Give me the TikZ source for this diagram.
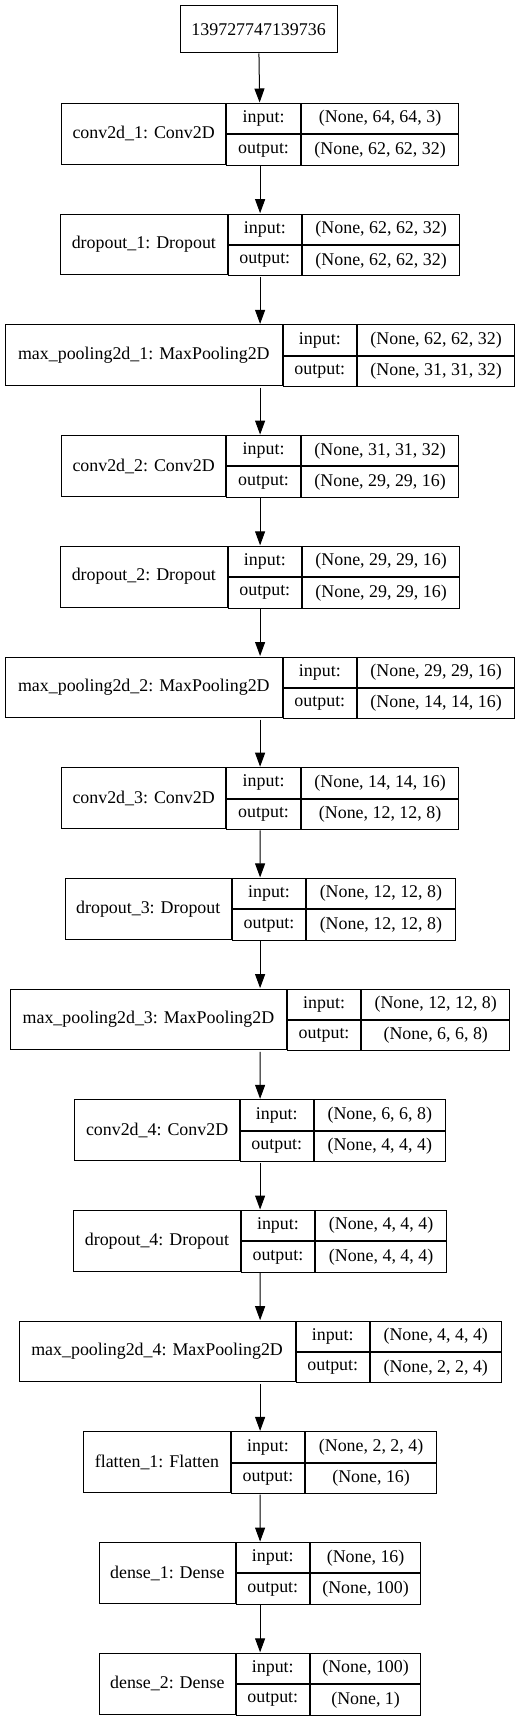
\documentclass[tikz,border=0pt]{standalone}
\usepackage{fontspec}
\setmainfont{Liberation Serif}
\usetikzlibrary{arrows.meta,positioning,fit}

\tikzset{
  cell/.style={draw, line width=1pt, inner sep=0pt, minimum height=30.35pt, anchor=north west},
  namecell/.style={cell, minimum height=60.7pt},
  flow/.style={-{Triangle[length=14pt,width=10pt]}, line width=1pt}
}

\begin{document}
\begin{tikzpicture}[x=1pt, y=-1pt, font=\fontsize{17.9}{21}\selectfont]
\useasboundingbox (0,0) rectangle (517,1720);
% input node
\node[draw, line width=1pt, minimum width=157pt, minimum height=47pt, inner sep=0pt] (input) at (258.6,29.5) {139727747139736};
% one row per layer: name | input:/output: | shapes
\foreach \id/\wa/\wb/\wc/\title/\vin/\vout [count=\k] in {
  conv1/164/74/157/{conv2d\_1: Conv2D}/{(None, 64, 64, 3)}/{(None, 62, 62, 32)},
  drop1/166.5/73.5/157/{dropout\_1: Dropout}/{(None, 62, 62, 32)}/{(None, 62, 62, 32)},
  pool1/276.5/73.5/157/{max\_pooling2d\_1: MaxPooling2D}/{(None, 62, 62, 32)}/{(None, 31, 31, 32)},
  conv2/164/74/157/{conv2d\_2: Conv2D}/{(None, 31, 31, 32)}/{(None, 29, 29, 16)},
  drop2/166.5/73.5/157/{dropout\_2: Dropout}/{(None, 29, 29, 16)}/{(None, 29, 29, 16)},
  pool2/276.5/73.5/157/{max\_pooling2d\_2: MaxPooling2D}/{(None, 29, 29, 16)}/{(None, 14, 14, 16)},
  conv3/164/74/157/{conv2d\_3: Conv2D}/{(None, 14, 14, 16)}/{(None, 12, 12, 8)},
  drop3/166.3/73.3/148.4/{dropout\_3: Dropout}/{(None, 12, 12, 8)}/{(None, 12, 12, 8)},
  pool3/276.3/73/148.3/{max\_pooling2d\_3: MaxPooling2D}/{(None, 12, 12, 8)}/{(None, 6, 6, 8)},
  conv4/164.4/73/131/{conv2d\_4: Conv2D}/{(None, 6, 6, 8)}/{(None, 4, 4, 4)},
  drop4/166.4/73.6/130.7/{dropout\_4: Dropout}/{(None, 4, 4, 4)}/{(None, 4, 4, 4)},
  pool4/276/73.3/130.7/{max\_pooling2d\_4: MaxPooling2D}/{(None, 4, 4, 4)}/{(None, 2, 2, 4)},
  flat1/146.7/73.3/131/{flatten\_1: Flatten}/{(None, 2, 2, 4)}/{(None, 16)},
  dense1/136/73/110.6/{dense\_1: Dense}/{(None, 16)}/{(None, 100)},
  dense2/136/73/110.6/{dense\_2: Dense}/{(None, 100)}/{(None, 1)}}
{
  \pgfmathsetmacro\xl{258.6-(\wa+\wb+\wc)/2}
  \pgfmathsetmacro\yt{103+(\k-1)*110.7}
  \node[namecell, minimum width=\wa pt] (\id-name) at (\xl,\yt) {\title};
  \node[cell, minimum width=\wb pt] (\id-li) at (\id-name.north east) {input:};
  \node[cell, minimum width=\wb pt] (\id-lo) at (\id-li.south west) {output:};
  \node[cell, minimum width=\wc pt] (\id-vi) at (\id-li.north east) {\vin};
  \node[cell, minimum width=\wc pt] (\id-vo) at (\id-lo.north east) {\vout};
  \node[fit=(\id-name)(\id-vo), inner sep=0pt, outer sep=0.5pt] (\id) {};
}
% connectors
\foreach \a/\b in {input/conv1, conv1/drop1, drop1/pool1, pool1/conv2, conv2/drop2,
  drop2/pool2, pool2/conv3, conv3/drop3, drop3/pool3, pool3/conv4, conv4/drop4,
  drop4/pool4, pool4/flat1, flat1/dense1, dense1/dense2}
  \draw[flow] (\a) -- (\b);
\end{tikzpicture}
\end{document}
